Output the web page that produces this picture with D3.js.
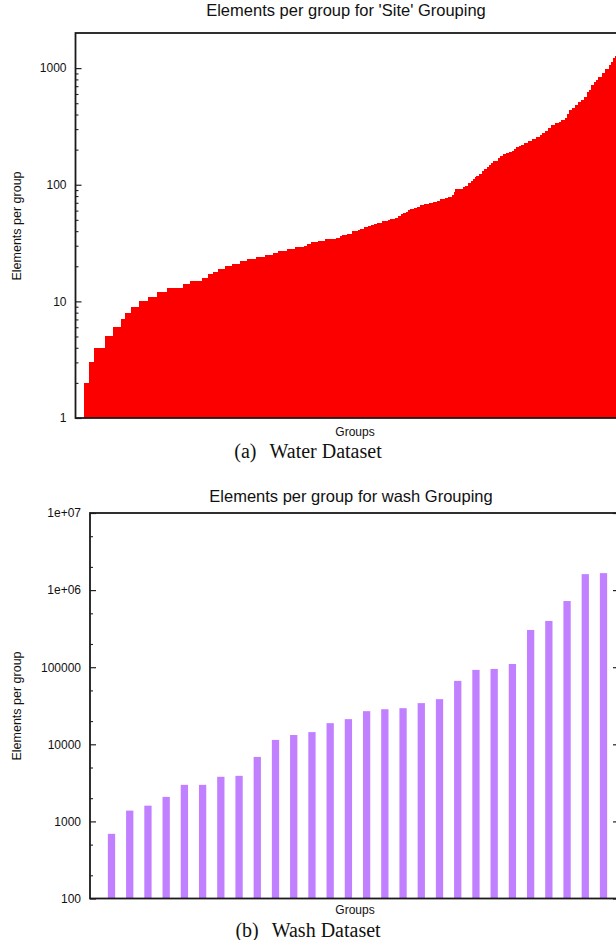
<!DOCTYPE html>
<html><head><meta charset="utf-8">
<script src="https://cdn.jsdelivr.net/npm/d3@7"></script>
<style>body{margin:0;background:#fff} svg{display:block}</style>
</head><body>
<svg id="c" width="616" height="940"></svg>
<script>
// ---- Top chart: Water dataset, 'Site' grouping (sorted runs: value, number of groups with that value)
const siteValues = [2,3,4,5,6,7,8,9,10,11,12,13,14,15,16,17,18,19,20,
  21,22,23,24,25,26,27,28,29,30,31,32,33,34,35,36,37,38,40,41,42,43,44,45,46,47,49,50,51,
  52,54,56,57,58,61,62,63,64,67,68,70,71,72,75,77,78,82,87,92,96,98,104,108,112,117,119,124,131,136,142,148,154,160,170,177,184,187,191,195,201,211,216,
  219,228,238,247,257,267,278,289,307,326,339,346,359,374,405,438,456,484,513,534,566,625,651,718,762,793,841,910,984,1065,1130,1223,1273,
  1350,1480,1650,1850];
const siteCounts = [5,5,11,8,8,4,6,8,9,9,10,16,7,12,6,5,5,7,7,
  8,7,9,9,8,5,9,8,9,3,4,7,7,11,4,2,5,5,6,2,4,4,3,3,3,5,6,2,5,
  3,3,2,3,2,2,4,3,3,4,5,4,4,3,5,3,4,2,1,8,2,3,3,2,2,1,3,3,2,3,2,2,2,5,2,3,3,3,3,2,2,3,2,
  3,4,4,4,4,2,3,3,3,4,4,2,4,2,2,3,3,3,3,3,3,2,2,3,2,2,4,3,4,2,2,2,2,
  3,3,3,3];
const siteTicks = [1, 10, 100, 1000];
const siteTickLabels = ["1", "10", "100", "1000"];

// ---- Bottom chart: Wash dataset
const washValues = [690, 1380, 1600, 2080, 2980, 2980, 3790, 3900, 6860, 11400, 13200, 14400,
  18800, 21200, 26900, 28500, 29400, 34200, 38500, 66500, 92300, 95000, 110000,
  304000, 398000, 721000, 1610000, 1660000];
const washTicks = [100, 1000, 10000, 100000, 1000000, 10000000];
const washTickLabels = ["100", "1000", "10000", "100000", "1e+06", "1e+07"];

const FONT = "'Liberation Sans', Arial, Helvetica, sans-serif";
const SERIF = "'Liberation Serif', 'Times New Roman', serif";
const svg = d3.select("#c");

function minorTicks(lo, hi, mults) {
  const out = [];
  for (let p = Math.floor(Math.log10(lo)); p <= Math.ceil(Math.log10(hi)); p++) {
    for (const m of mults) {
      const v = m * Math.pow(10, p);
      if (v > lo && v < hi) out.push(v);
    }
  }
  return out;
}

function frameAndAxes(g, x0, x1, y, ticks, labels, minors, padding) {
  const left = d3.axisLeft(y).tickValues(ticks).tickSizeInner(-6).tickSizeOuter(0)
    .tickPadding(padding).tickFormat((d, i) => labels[i]);
  const ga = g.append("g").attr("transform", `translate(${x0},0)`).call(left);
  ga.select(".domain").remove();
  ga.selectAll("text").attr("font-family", FONT).attr("font-size", 12).attr("fill", "#111");
  ga.selectAll("line").attr("stroke", "#222").attr("stroke-width", 1.2);
  const lm = d3.axisLeft(y).tickValues(minors).tickSizeInner(-3).tickSizeOuter(0).tickFormat("");
  const gm = g.append("g").attr("transform", `translate(${x0},0)`).call(lm);
  gm.select(".domain").remove();
  gm.selectAll("line").attr("stroke", "#222").attr("stroke-width", 1.1);
  // mirrored ticks on right border
  const r = d3.axisRight(y).tickValues(ticks).tickSizeInner(-6).tickSizeOuter(0).tickFormat("");
  const gr = g.append("g").attr("transform", `translate(${x1},0)`).call(r);
  gr.select(".domain").remove();
  gr.selectAll("line").attr("stroke", "#222").attr("stroke-width", 1.2);
  const rm = d3.axisRight(y).tickValues(minors).tickSizeInner(-3).tickSizeOuter(0).tickFormat("");
  const grm = g.append("g").attr("transform", `translate(${x1},0)`).call(rm);
  grm.select(".domain").remove();
  grm.selectAll("line").attr("stroke", "#222").attr("stroke-width", 1.1);
  const [yb, yt] = y.range();
  g.append("rect").attr("x", x0).attr("y", yt).attr("width", x1 - x0).attr("height", yb - yt)
    .attr("fill", "none").attr("stroke", "#1a1a1a").attr("stroke-width", 1.8);
}

function text(x, y, s, size, opts = {}) {
  const t = svg.append("text").attr("x", x).attr("y", y).text(s)
    .attr("font-family", opts.family || FONT).attr("font-size", size)
    .attr("text-anchor", "middle").attr("fill", "#111");
  if (opts.rotate) t.attr("transform", `rotate(-90,${x},${y})`);
  return t;
}

function caption(x, y, label, s) {
  const t = svg.append("text").attr("x", x).attr("y", y)
    .attr("font-family", SERIF).attr("font-size", 20)
    .attr("text-anchor", "middle").attr("fill", "#111");
  t.append("tspan").text(label);
  t.append("tspan").attr("dx", 13).text(s);
}

// ================= TOP CHART =================
{
  const siteGroups = [];
  siteValues.forEach((v, k) => { for (let j = 0; j < siteCounts[k]; j++) siteGroups.push(v); });
  const x0 = 75.5, x1 = 634;
  const x = d3.scaleLinear().domain([-8.5, siteGroups.length + 5]).range([x0, x1]);
  const y = d3.scaleLog().domain([1, 2000]).range([418, 33]);
  const g = svg.append("g");
  g.append("g").selectAll("rect").data(siteGroups).join("rect")
    .attr("x", (d, i) => x(i))
    .attr("width", (d, i) => x(i + 1) - x(i) + 0.4)
    .attr("y", d => y(d))
    .attr("height", d => y(1) - y(d))
    .attr("fill", "#fc0000")
    .attr("shape-rendering", "crispEdges");
  frameAndAxes(g, x0, x1, y, siteTicks, siteTickLabels, minorTicks(1, 2000, [2,3,4,5,6,7,8,9]), 9);
  text(346, 16, "Elements per group for 'Site' Grouping", 16.5);
  text(21, 226, "Elements per group", 12.5, { rotate: true });
  text(355, 435.5, "Groups", 12);
  caption(308, 458, "(a)", "Water Dataset");
}

// ================= BOTTOM CHART =================
{
  const x0 = 90, x1 = 619;
  const x = d3.scaleLinear().domain([-1.18, 27.85]).range([x0, x1]);
  const y = d3.scaleLog().domain([100, 1e7]).range([898.5, 513]);
  const bw = x(0.4) - x(0);
  const g = svg.append("g");
  g.append("g").selectAll("rect").data(washValues).join("rect")
    .attr("x", (d, i) => x(i) - bw / 2)
    .attr("width", bw)
    .attr("y", d => y(d))
    .attr("height", d => y(100) - y(d))
    .attr("fill", "#c080ff");
  frameAndAxes(g, x0, x1, y, washTicks, washTickLabels, minorTicks(100, 1e7, [2, 5]), 9);
  text(351, 502, "Elements per group for wash Grouping", 16.5);
  text(21, 706, "Elements per group", 12.5, { rotate: true });
  text(355, 914, "Groups", 12);
  caption(308, 936.5, "(b)", "Wash Dataset");
}
</script>
</body></html>
